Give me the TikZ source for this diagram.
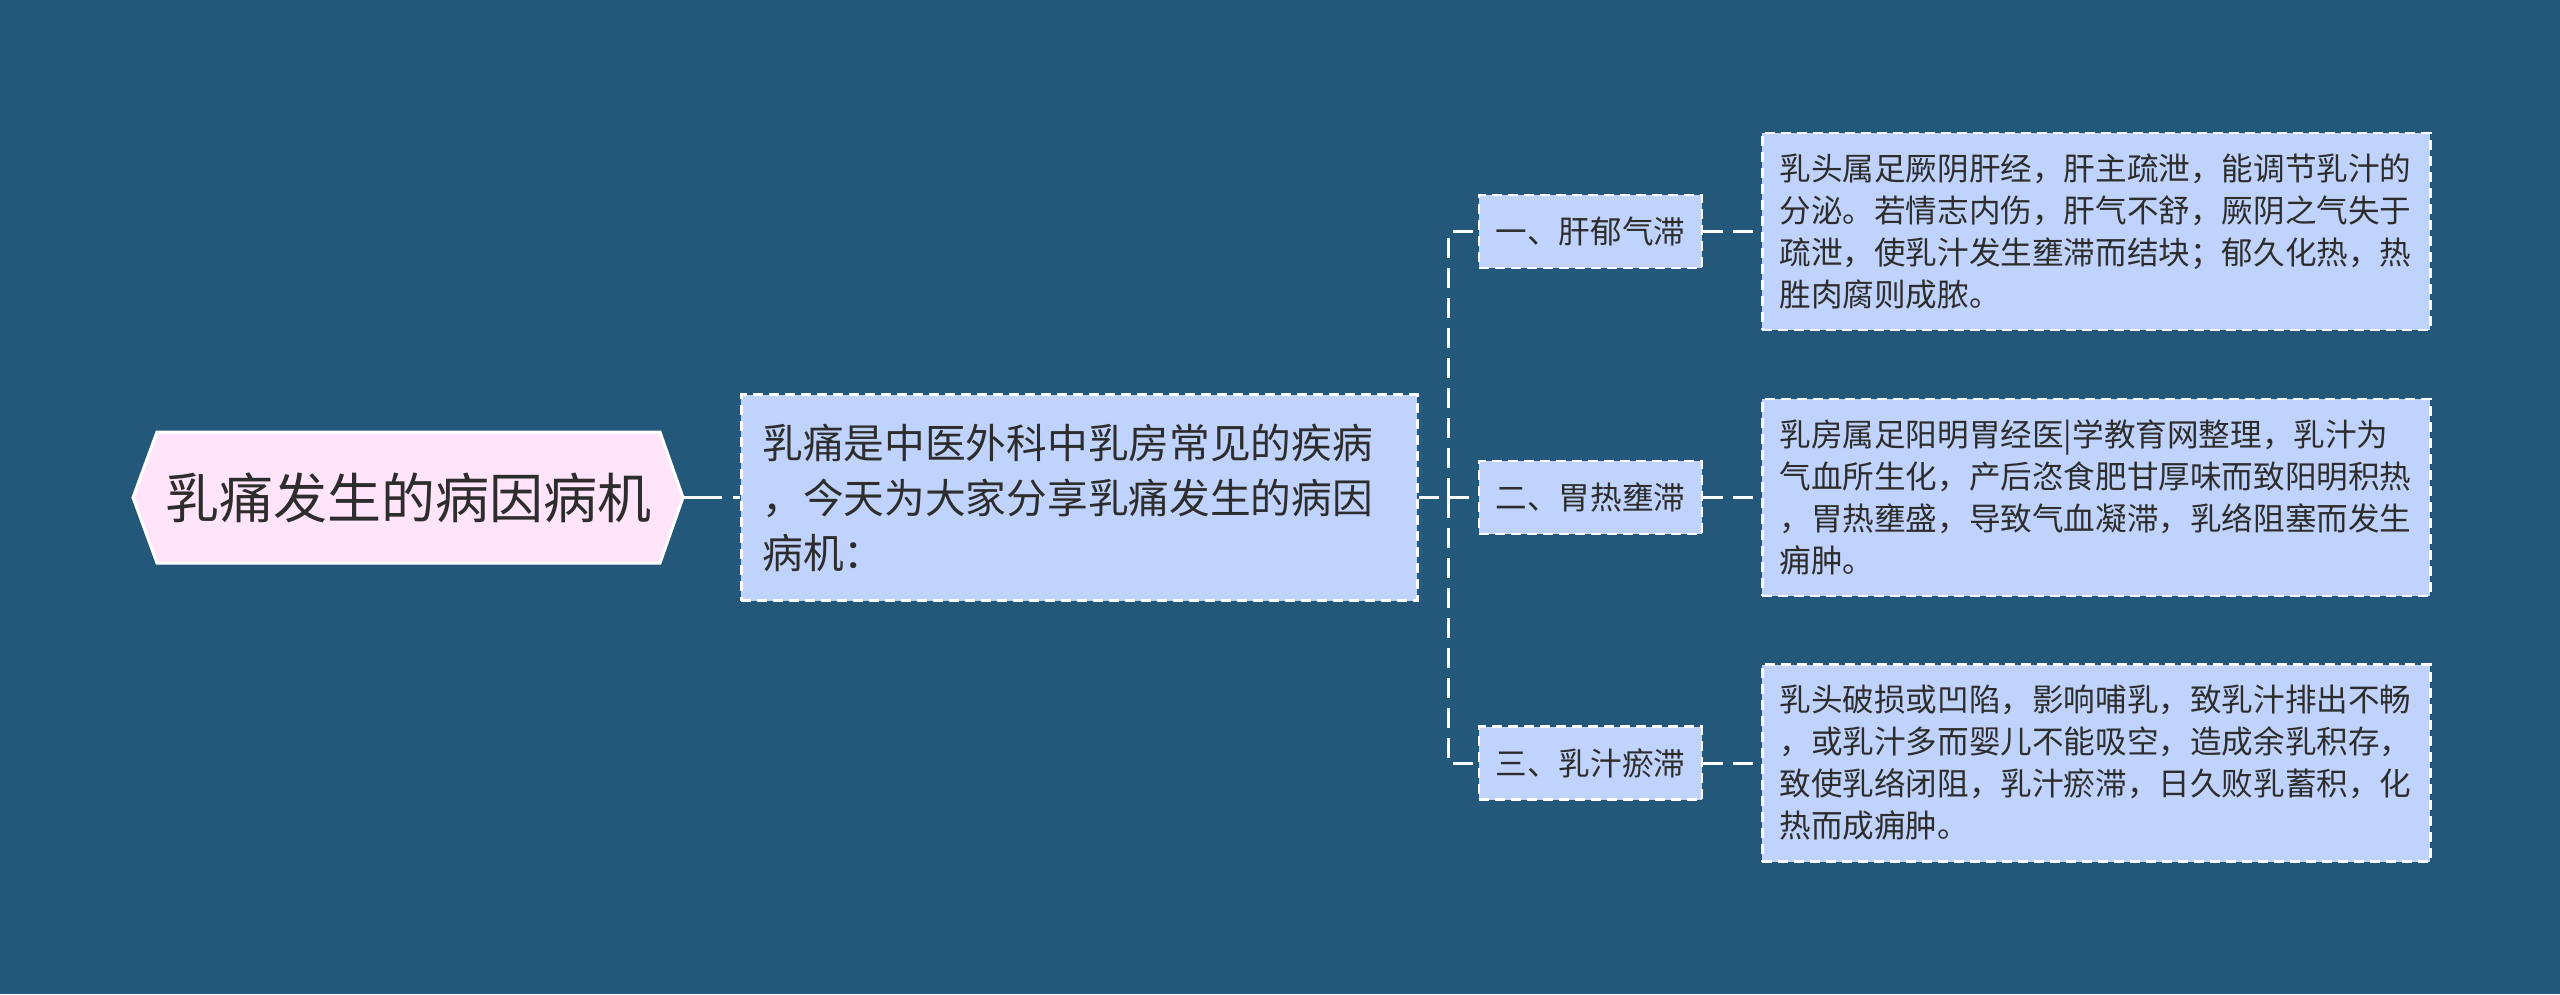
\documentclass[tikz,border=0pt]{standalone}
\usepackage{fontspec}
\setmainfont{Noto Sans CJK SC}
\usetikzlibrary{positioning}
\definecolor{bgblue}{RGB}{35,88,122}
\definecolor{boxblue}{RGB}{192,211,252}
\definecolor{rootpink}{RGB}{255,228,250}
\definecolor{inkgray}{RGB}{45,45,45}

\begin{document}
\begin{tikzpicture}[x=1pt, y=-1pt,
    rootframe/.style={draw=white, line width=3pt, fill=rootpink},
    rootlabel/.style={inner sep=0pt, minimum width=550pt, minimum height=131pt, text=inkgray, font=\fontsize{54}{64}\selectfont},
    dashbox/.style={draw=white, line width=2.5pt, dash pattern=on 10pt off 6pt, fill=boxblue, text=inkgray},
    introbox/.style={dashbox, align=left, text width=634pt, inner xsep=21pt, inner ysep=0pt, minimum height=206pt, font=\fontsize{40.7}{55}\selectfont},
    branchbox/.style={dashbox, inner sep=0pt, minimum width=223pt, minimum height=73pt, font=\fontsize{31.6}{40}\selectfont},
    leafbox/.style={dashbox, align=left, text width=634pt, inner xsep=17pt, inner ysep=0pt, minimum height=197pt, font=\fontsize{31.6}{42}\selectfont},
    link/.style={draw=white, line width=3pt, dash pattern=on 20pt off 10pt},
    rootlink/.style={draw=white, line width=3pt, dash pattern=on 39pt off 11pt}]
  \useasboundingbox (0,0) rectangle (2560,994);
  \fill[bgblue] (0,0) rectangle (2560,994);
  \draw[rootframe] (133,497.5) -- (157,432) -- (660,432) -- (683,497.5) -- (660,563) -- (157,563) -- cycle;
  \node[rootlabel] (root) at (408,497.5) {乳痛发生的病因病机};
  \node[introbox, right=57pt of root] (intro) {乳痛是中医外科中乳房常见的疾病\\
    ，今天为大家分享乳痛发生的病因\\
    病机：};
  \node[branchbox, right=59pt of intro] (branch2) {二、胃热壅滞};
  \node[branchbox, above=190.5pt of branch2] (branch1) {一、肝郁气滞};
  \node[branchbox, below=190pt of branch2] (branch3) {三、乳汁瘀滞};
  \node[leafbox, right=58pt of branch1] (leaf1) {乳头属足厥阴肝经，肝主疏泄，能调节乳汁的\\
    分泌。若情志内伤，肝气不舒，厥阴之气失于\\
    疏泄，使乳汁发生壅滞而结块；郁久化热，热\\
    胜肉腐则成脓。};
  \node[leafbox, right=58pt of branch2] (leaf2) {乳房属足阳明胃经医|学教育网整理，乳汁为\\
    气血所生化，产后恣食肥甘厚味而致阳明积热\\
    ，胃热壅盛，导致气血凝滞，乳络阻塞而发生\\
    痈肿。};
  \node[leafbox, right=58pt of branch3] (leaf3) {乳头破损或凹陷，影响哺乳，致乳汁排出不畅\\
    ，或乳汁多而婴儿不能吸空，造成余乳积存，\\
    致使乳络闭阻，乳汁瘀滞，日久败乳蓄积，化\\
    热而成痈肿。};
  \coordinate[right=30pt of intro.east] (fork);
  \draw[rootlink] (root.east) -- (intro.west);
  \draw[link] (intro.east) -- (branch2.west);
  \draw[link] (fork) |- (branch1.west);
  \draw[link] (fork) |- (branch3.west);
  \draw[link] (branch1.east) -- (leaf1.west);
  \draw[link] (branch2.east) -- (leaf2.west);
  \draw[link] (branch3.east) -- (leaf3.west);
\end{tikzpicture}
\end{document}
